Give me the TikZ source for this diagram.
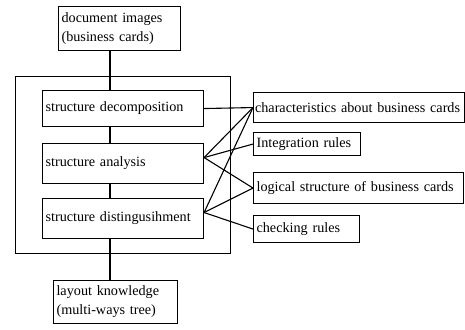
\documentclass[tikz,border=0pt]{standalone}
\usepackage{fontspec}
\setmainfont{Liberation Serif}
\begin{document}
\begin{tikzpicture}[
    x=1pt, y=-1pt,
    box/.style={draw, line width=1.1pt, anchor=north west, inner sep=3pt,
      align=left, font=\fontsize{14.2}{19}\selectfont},
    link/.style={line width=1.1pt}
  ]
  \useasboundingbox (0,0) rectangle (465,329);
  \node[draw, line width=1.1pt, anchor=north west, minimum width=215pt, minimum height=177pt] (frame) at (15,76) {};
  \node[box, text width=116pt, minimum height=44pt] (images) at (58,6) {document images\\(business cards)};
  \node[box, text width=155pt, minimum height=36pt] (decomp) at (42,90) {structure decomposition};
  \node[box, text width=155pt, minimum height=40pt] (analysis) at (42,143) {structure analysis};
  \node[box, text width=155pt, minimum height=40pt] (disting) at (42,198) {structure distingusihment};
  \node[box, text width=118pt, minimum height=43pt] (layout) at (53,280) {layout knowledge\\(multi-ways tree)};
  \node[box, inner xsep=1.5pt, text width=208pt, minimum height=30pt] (chars) at (253,92) {characteristics about business cards};
  \node[box, text width=101pt, minimum height=23pt] (integ) at (253,132) {Integration rules};
  \node[box, text width=204pt, minimum height=31pt] (logic) at (253,172) {logical structure of business cards};
  \node[box, text width=100pt, minimum height=27pt] (check) at (253,215) {checking rules};
  \coordinate (spine) at (110,0);
  \coordinate (ana) at ([yshift=6pt]analysis.east);
  \coordinate (dis) at ([yshift=6pt]disting.east);
  \draw[link] (spine |- images.south) -- (spine |- decomp.north);
  \draw[link] (spine |- decomp.south) -- (spine |- analysis.north);
  \draw[link] (spine |- analysis.south) -- (spine |- disting.north);
  \draw[link] (spine |- disting.south) -- (spine |- layout.north);
  \draw[link] (decomp.east) -- (chars.west);
  \draw[link] (ana) -- (chars.west);
  \draw[link] (ana) -- (integ.west);
  \draw[link] (ana) -- (logic.west);
  \draw[link] (dis) -- (chars.west);
  \draw[link] (dis) -- (logic.west);
  \draw[link] (dis) -- (check.west);
\end{tikzpicture}
\end{document}
